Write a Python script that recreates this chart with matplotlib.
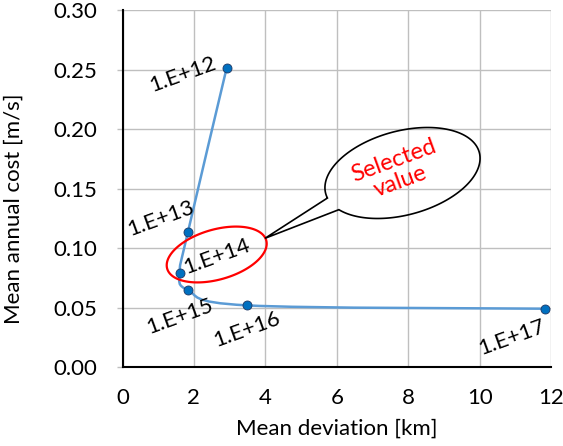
import numpy as np
import matplotlib
matplotlib.use("Agg")
import matplotlib.pyplot as plt
from matplotlib.path import Path
from matplotlib.patches import PathPatch, Polygon

# ---- data ----
mean_deviation_km = [2.92, 1.83, 1.60, 1.83, 3.49, 11.82]
mean_annual_cost = [0.2517, 0.1133, 0.0791, 0.0648, 0.0520, 0.0492]
point_labels = ["1.E+12", "1.E+13", "1.E+14", "1.E+15", "1.E+16", "1.E+17"]
x_ticks = [0, 2, 4, 6, 8, 10, 12]
y_ticks = [0.00, 0.05, 0.10, 0.15, 0.20, 0.25, 0.30]
callout_text = "Selected\nvalue"

plt.rcParams["font.family"] = ["Lato", "DejaVu Sans"]

W, H = 563, 446
fig = plt.figure(figsize=(W / 100, H / 100), dpi=100)
ax = fig.add_axes([122.5 / W, 1 - 367.3 / H, 428.5 / W, 357.3 / H])

# smoothed line (Catmull-Rom style Bezier, like Excel smoothing)
P = np.column_stack([mean_deviation_km, mean_annual_cost])
verts = [P[0]]
codes = [Path.MOVETO]
n = len(P)
for i in range(n - 1):
    p0 = P[i - 1] if i > 0 else P[i]
    p1 = P[i]
    p2 = P[i + 1]
    p3 = P[i + 2] if i + 2 < n else P[i + 1]
    c1 = p1 + (p2 - p0) / 6.0
    c2 = p2 - (p3 - p1) / 6.0
    verts += [c1, c2, p2]
    codes += [Path.CURVE4] * 3
ax.add_patch(PathPatch(Path(verts, codes), facecolor="none",
                       edgecolor="#5B9BD5", lw=1.8, zorder=3))
ax.plot(mean_deviation_km, mean_annual_cost, linestyle="none", marker="o",
        markersize=6.5, markerfacecolor="#0070C0", markeredgecolor="#1F3864",
        markeredgewidth=0.6, zorder=4)

FS = 16

# data labels (offsets in pixels: right, down)
offsets = [(-44.4, 7.4), (-27.0, -14.0), (37.6, -16.3), (-7.7, 26.0),
           (-0.3, 24.0), (-32.6, 28.6)]
for xv, yv, lab, (dx, dy) in zip(mean_deviation_km, mean_annual_cost,
                                 point_labels, offsets):
    ax.annotate(lab, xy=(xv, yv), xytext=(dx * 0.72, -dy * 0.72),
                textcoords="offset points", ha="center", va="center",
                rotation=20, fontsize=FS, color="black", zorder=5)

ax.set_xlim(0, 12)
ax.set_ylim(0, 0.30)
ax.set_xticks(x_ticks)
ax.set_yticks(y_ticks)
ax.set_xticklabels([str(t) for t in x_ticks])
ax.set_yticklabels([f"{t:.2f}" for t in y_ticks])
ax.tick_params(axis="x", length=0, pad=15, labelsize=FS)
ax.tick_params(axis="y", length=4, width=1, color="#BFBFBF", pad=14,
               labelsize=FS)
ax.grid(True, color="#BFBFBF", lw=1.0, zorder=0)
ax.set_axisbelow(True)
for s in ["top", "right"]:
    ax.spines[s].set_visible(False)
for s in ["left", "bottom"]:
    ax.spines[s].set_color("black")
    ax.spines[s].set_linewidth(1.5)
    ax.spines[s].set_zorder(2)
ax.set_xlabel("Mean deviation [km]", fontsize=FS)
ax.set_ylabel("Mean annual cost [m/s]", fontsize=FS)
ax.xaxis.set_label_coords(0.5, (367.3 - 419.0) / 357.3)
ax.yaxis.set_label_coords((24.0 - 122.5) / 428.5, 1 - (209.0 - 10.0) / 357.3)


# ---- annotations in pixel coordinates ----
def pix(pts):
    pts = np.asarray(pts, dtype=float)
    return np.column_stack([pts[:, 0] / W, 1 - pts[:, 1] / H])


def ellipse_pts(cx, cy, a, b, ang_deg, t):
    phi = np.deg2rad(-ang_deg)
    x = cx + a * np.cos(t) * np.cos(phi) - b * np.sin(t) * np.sin(phi)
    y = cy + a * np.cos(t) * np.sin(phi) + b * np.sin(t) * np.cos(phi)
    return np.column_stack([x, y])


# red ellipse around selected point
t = np.linspace(0, 2 * np.pi, 400)
red = ellipse_pts(216.7, 254.5, 51.5, 25.0, 16, t)
fig.patches.append(Polygon(pix(red), closed=True, fill=False,
                           edgecolor="#FF0000", lw=1.6,
                           transform=fig.transFigure, figure=fig, zorder=6))

# speech bubble
cx, cy, a, b, ang = 402.5, 173.0, 79.5, 42.0, 15
N = 2000
tt = np.linspace(0, 2 * np.pi, N, endpoint=False)
ep = ellipse_pts(cx, cy, a, b, ang, tt)
i1 = np.argmin(np.hypot(ep[:, 0] - 325.5, ep[:, 1] - 199.0))
i2 = np.argmin(np.hypot(ep[:, 0] - 336.7, ep[:, 1] - 213.3))
fw = (i1 - i2) % N
if fw > N / 2:
    arc = [(i2 + k) % N for k in range(fw + 1)]
else:
    bw = N - fw
    arc = [(i2 - k) % N for k in range(bw + 1)]
bubble = np.vstack([ep[arc], [[265.0, 238.3]]])
fig.patches.append(Polygon(pix(bubble), closed=True, fill=False,
                           edgecolor="black", lw=1.2, joinstyle="miter",
                           transform=fig.transFigure, figure=fig, zorder=6))
fig.text(397.0 / W, 1 - 171.0 / H, callout_text, color="#FF0000",
         fontsize=17, rotation=20, ha="center", va="center",
         multialignment="center", linespacing=1.05)

fig.savefig("out.png", dpi=100)
